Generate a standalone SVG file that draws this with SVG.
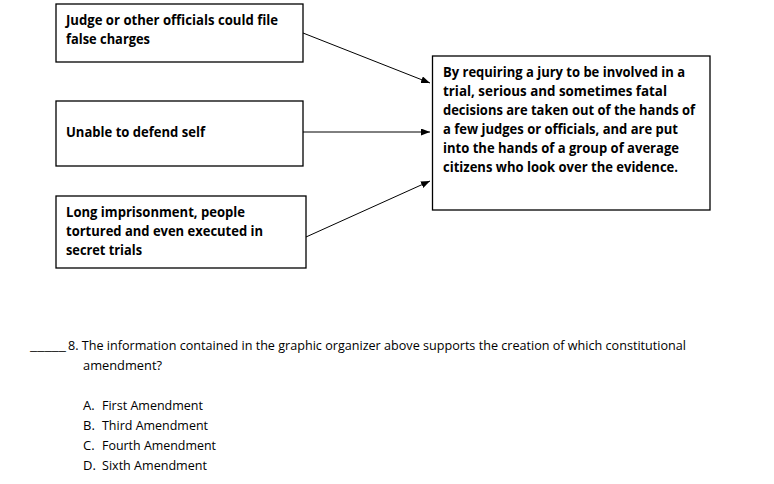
<svg xmlns="http://www.w3.org/2000/svg" width="774" height="484" viewBox="0 0 774 484">
<style>
.box{fill:#fff;stroke:#000;stroke-width:1.3}
.b{font-family:"Open Sans","Liberation Sans",sans-serif;font-weight:bold;font-size:14px;fill:#000}
.r{font-family:"Open Sans","Liberation Sans",sans-serif;font-size:13px;fill:#000}
.conn{stroke:#000;stroke-width:1;fill:none;marker-end:url(#ah)}
</style>
<defs>
<marker id="ah" markerWidth="9" markerHeight="7" refX="9" refY="3.5" orient="auto" markerUnits="userSpaceOnUse">
<path d="M0,0 L9,3.5 L0,7 z" fill="#000"/>
</marker>
</defs>
<rect width="774" height="484" fill="#fff"/>
<g id="node1">
<rect class="box" x="56" y="4" width="247" height="58"/>
<text class="b" x="66" y="25" textLength="212" lengthAdjust="spacingAndGlyphs">Judge or other officials could file</text>
<text class="b" x="66" y="44" textLength="84" lengthAdjust="spacingAndGlyphs">false charges</text>
</g>
<g id="node2">
<rect class="box" x="56" y="101" width="247" height="65"/>
<text class="b" x="66" y="137" textLength="139" lengthAdjust="spacingAndGlyphs">Unable to defend self</text>
</g>
<g id="node3">
<rect class="box" x="56" y="196" width="250" height="72"/>
<text class="b" x="66" y="217" textLength="179" lengthAdjust="spacingAndGlyphs">Long imprisonment, people</text>
<text class="b" x="66" y="236" textLength="197" lengthAdjust="spacingAndGlyphs">tortured and even executed in</text>
<text class="b" x="66" y="255" textLength="76" lengthAdjust="spacingAndGlyphs">secret trials</text>
</g>
<g id="node4">
<rect class="box" x="432.5" y="56" width="277.5" height="154" stroke="#333"/>
<text class="b" x="443" y="77" textLength="242" lengthAdjust="spacingAndGlyphs">By requiring a jury to be involved in a</text>
<text class="b" x="443" y="96" textLength="224" lengthAdjust="spacingAndGlyphs">trial, serious and sometimes fatal</text>
<text class="b" x="443" y="115" textLength="252" lengthAdjust="spacingAndGlyphs">decisions are taken out of the hands of</text>
<text class="b" x="443" y="134" textLength="235" lengthAdjust="spacingAndGlyphs">a few judges or officials, and are put</text>
<text class="b" x="443" y="153" textLength="236" lengthAdjust="spacingAndGlyphs">into the hands of a group of average</text>
<text class="b" x="443" y="172" textLength="235" lengthAdjust="spacingAndGlyphs">citizens who look over the evidence.</text>
</g>
<g id="connectors">
<line class="conn" x1="303" y1="33" x2="430" y2="83"/>
<line class="conn" x1="303" y1="132" x2="430" y2="132"/>
<line class="conn" x1="306" y1="237" x2="430" y2="181"/>
</g>
<g id="question">
<text class="r" x="30" y="350" textLength="36" lengthAdjust="spacingAndGlyphs">_____</text>
<text class="r" x="68" y="350" textLength="618" lengthAdjust="spacingAndGlyphs">8. The information contained in the graphic organizer above supports the creation of which constitutional</text>
<text class="r" x="83" y="370" textLength="79" lengthAdjust="spacingAndGlyphs">amendment?</text>
<text class="r" x="83" y="410">A.</text><text class="r" x="102" y="410" textLength="101" lengthAdjust="spacingAndGlyphs">First Amendment</text>
<text class="r" x="83" y="430">B.</text><text class="r" x="102" y="430" textLength="106" lengthAdjust="spacingAndGlyphs">Third Amendment</text>
<text class="r" x="83" y="450">C.</text><text class="r" x="102" y="450" textLength="114" lengthAdjust="spacingAndGlyphs">Fourth Amendment</text>
<text class="r" x="83" y="470">D.</text><text class="r" x="102" y="470" textLength="105" lengthAdjust="spacingAndGlyphs">Sixth Amendment</text>
</g>
</svg>
